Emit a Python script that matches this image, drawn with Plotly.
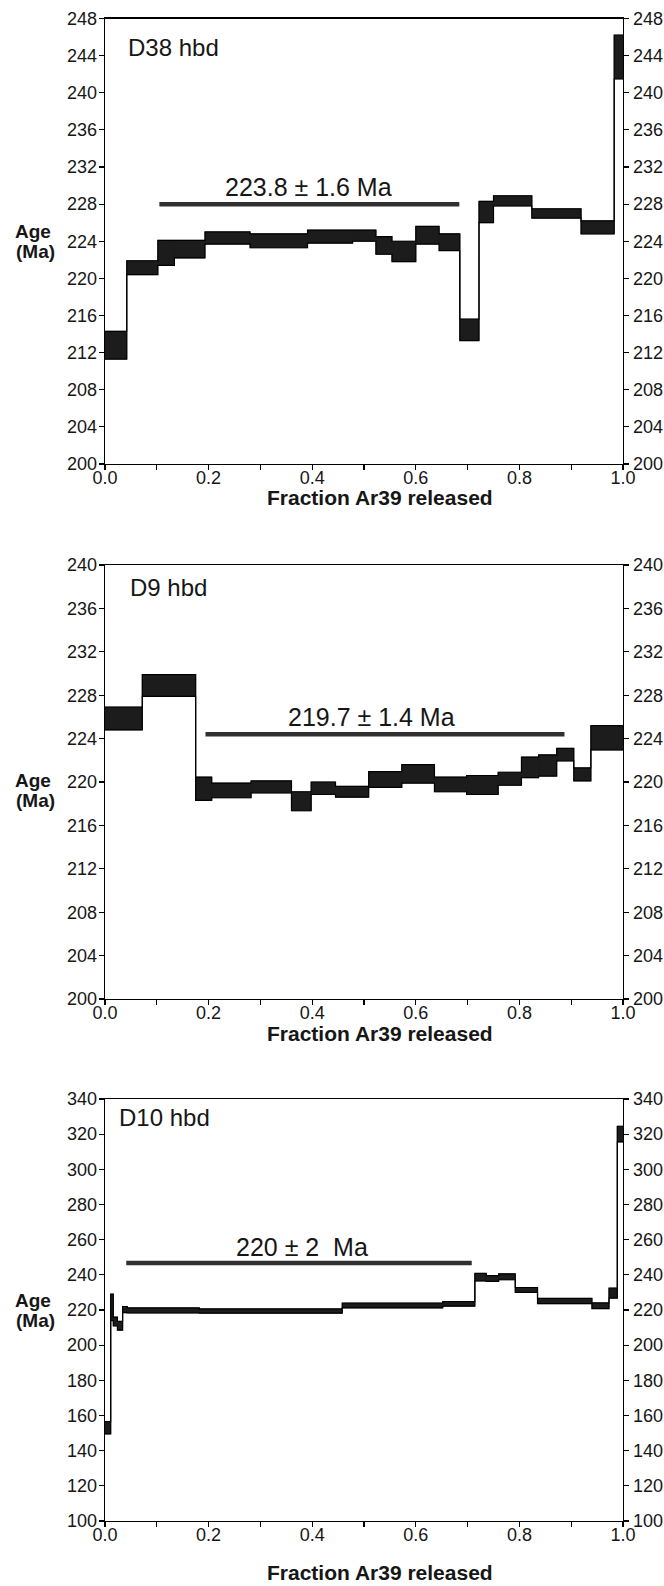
import plotly.graph_objects as go

# ---------------- data ----------------
# D38 hbd
d38_edges = [0.0, 0.042, 0.102, 0.134, 0.193, 0.280, 0.391, 0.478, 0.523, 0.554, 0.600, 0.645, 0.685, 0.722, 0.750, 0.824, 0.919, 0.983, 1.0]
d38_lo = [211.3, 220.4, 221.4, 222.2, 223.7, 223.3, 223.8, 224.0, 222.6, 221.8, 223.7, 223.0, 213.3, 226.0, 227.8, 226.5, 224.8, 241.5]
d38_hi = [214.3, 221.9, 224.1, 224.1, 225.0, 224.8, 225.2, 225.2, 224.5, 224.0, 225.6, 224.8, 215.6, 228.3, 228.9, 227.5, 226.2, 246.2]
d38_plateau = [0.105, 0.684, 228.0]
d38_plateau_text = "223.8 ± 1.6 Ma"

# D9 hbd
d9_edges = [0.0, 0.072, 0.175, 0.206, 0.282, 0.360, 0.398, 0.445, 0.509, 0.573, 0.636, 0.698, 0.759, 0.804, 0.837, 0.872, 0.905, 0.938, 1.0]
d9_lo = [224.8, 227.9, 218.3, 218.55, 219.0, 217.35, 218.85, 218.6, 219.5, 219.9, 219.1, 218.85, 219.7, 220.4, 220.55, 221.95, 220.1, 222.95]
d9_hi = [226.9, 229.9, 220.45, 219.9, 220.1, 219.1, 220.0, 219.6, 220.95, 221.6, 220.45, 220.6, 220.9, 222.3, 222.5, 223.1, 221.3, 225.2]
d9_plateau = [0.194, 0.887, 224.4]
d9_plateau_text = "219.7 ± 1.4 Ma"

# D10 hbd
d10_edges = [0.0, 0.011, 0.016, 0.024, 0.034, 0.043, 0.182, 0.458, 0.652, 0.714, 0.736, 0.760, 0.792, 0.835, 0.940, 0.973, 0.989, 1.0]
d10_lo = [149.5, 214.0, 211.0, 208.5, 218.5, 218.3, 218.2, 221.2, 222.2, 236.5, 236.3, 237.2, 230.0, 223.6, 220.8, 226.8, 315.6]
d10_hi = [156.5, 229.0, 216.0, 213.5, 222.0, 221.2, 220.6, 223.9, 224.8, 240.8, 239.5, 240.6, 232.8, 226.6, 224.0, 232.4, 324.5]
d10_plateau = [0.041, 0.708, 246.8]
d10_plateau_text = "220 ± 2\u00a0 Ma"

sample_names = ["D38 hbd", "D9 hbd", "D10 hbd"]
y_ranges = [[200, 248], [200, 240], [100, 340]]
y_dticks = [4, 4, 20]
x_tick_vals = [0.0, 0.2, 0.4, 0.6, 0.8, 1.0]
x_tick_labels = ["0.0", "0.2", "0.4", "0.6", "0.8", "1.0"]
x_minor_vals = [0.1, 0.3, 0.5, 0.7, 0.9]
x_title = "Fraction Ar39 released"
y_title_lines = ["Age", "(Ma)"]

# --------------- layout geometry (pixels) ---------------
W, H = 664, 1586
x_left, x_right = 105, 623
panel_px = [(18.5, 464), (565, 999), (1099, 1521)]   # top, bottom
title_px = [498, 1033, 1572]
ylab_px = [(231, 251), (780, 800), (1300, 1320)]
name_pos = [(0.041, 244.9), (0.045, 237.9), (0.023, 329.2)]
plat_text_pos = [(0.393, 229.8), (0.514, 226.0), (0.380, 256.0)]

FONT = "Liberation Sans, Arial, Helvetica, sans-serif"
INK = "#161616"

fig = go.Figure()

panels = [
    (d38_edges, d38_lo, d38_hi, d38_plateau, d38_plateau_text),
    (d9_edges, d9_lo, d9_hi, d9_plateau, d9_plateau_text),
    (d10_edges, d10_lo, d10_hi, d10_plateau, d10_plateau_text),
]

layout = dict(
    template="none",
    width=W, height=H, autosize=False,
    margin=dict(l=0, r=0, t=0, b=0, pad=0, autoexpand=False),
    paper_bgcolor="white", plot_bgcolor="white",
    showlegend=False,
    font=dict(family=FONT, color=INK, size=18),
)
annotations = []

for k, (edges, lo, hi, plat, ptxt) in enumerate(panels):
    xa = "x" if k == 0 else f"x{k+1}"
    yl = f"y{2*k+1}" if k > 0 else "y"
    yr = f"y{2*k+2}"
    xa_key = "xaxis" if k == 0 else f"xaxis{k+1}"
    yl_key = "yaxis" if k == 0 else f"yaxis{2*k+1}"
    yr_key = f"yaxis{2*k+2}"

    # filled rectangles of each step
    fx, fy = [], []
    for i in range(len(lo)):
        fx += [edges[i], edges[i+1], edges[i+1], edges[i], edges[i], None]
        fy += [lo[i], lo[i], hi[i], hi[i], lo[i], None]
    fig.add_trace(go.Scatter(x=fx, y=fy, xaxis=xa, yaxis=yl, mode="lines",
                             fill="toself", fillcolor="#1c1c1c",
                             line=dict(color="#1c1c1c", width=0.6),
                             hoverinfo="skip"))
    # lower envelope
    fig.add_trace(go.Scatter(x=edges, y=lo + [lo[-1]], xaxis=xa, yaxis=yl,
                             mode="lines", line=dict(color="black", width=1.2, shape="hv"),
                             hoverinfo="skip"))
    # upper envelope (drawn on the right axis so that axis renders)
    fig.add_trace(go.Scatter(x=edges, y=hi + [hi[-1]], xaxis=xa, yaxis=yr,
                             mode="lines", line=dict(color="black", width=1.2, shape="hv"),
                             hoverinfo="skip"))
    # plateau bar
    fig.add_trace(go.Scatter(x=[plat[0], plat[1]], y=[plat[2], plat[2]], xaxis=xa, yaxis=yl,
                             mode="lines", line=dict(color="#303030", width=4.5),
                             hoverinfo="skip"))

    top, bot = panel_px[k]
    dom = [1 - bot / H, 1 - top / H]
    r = y_ranges[k]
    tv = list(range(r[0], r[1] + 1, y_dticks[k]))

    layout[xa_key] = dict(
        domain=[x_left / W, x_right / W], anchor=yl, range=[0, 1],
        tickmode="array", tickvals=x_tick_vals, ticktext=x_tick_labels,
        ticks="outside", ticklen=5, tickwidth=1.2, tickcolor="black",
        ticklabelstandoff=-8,
        minor=dict(tickmode="array", tickvals=x_minor_vals,
                   ticks="outside", ticklen=5, tickwidth=1.2, tickcolor="black", showgrid=False),
        showline=True, linecolor="black", linewidth=1.4, mirror=True,
        showgrid=False, zeroline=False, fixedrange=True, automargin=False,
        tickfont=dict(size=18, family=FONT, color=INK),
    )
    common_y = dict(
        domain=dom, range=r, tickmode="array", tickvals=tv,
        ticktext=[str(v) for v in tv],
        ticks="outside", ticklen=5, tickwidth=1.2, tickcolor="black",
        showline=True, linecolor="black", linewidth=1.4,
        showgrid=False, zeroline=False, fixedrange=True, automargin=False,
        tickfont=dict(size=18, family=FONT, color=INK),
    )
    layout[yl_key] = dict(common_y, anchor=xa, side="left", ticklabelstandoff=-2)
    layout[yr_key] = dict(common_y, anchor=xa, side="right", overlaying=yl, ticklabelstandoff=0)

    # sample name
    annotations.append(dict(x=name_pos[k][0], y=name_pos[k][1], xref=xa, yref=yl,
                            text=sample_names[k], showarrow=False, xanchor="left", yanchor="middle",
                            font=dict(size=24, family=FONT, color=INK)))
    # plateau age text
    annotations.append(dict(x=plat_text_pos[k][0], y=plat_text_pos[k][1], xref=xa, yref=yl,
                            text=ptxt, showarrow=False, xanchor="center", yanchor="middle",
                            font=dict(size=25, family=FONT, color=INK)))
    # y label (two lines)
    for j, line in enumerate(y_title_lines):
        annotations.append(dict(x=(32.5 + 2.5 * j) / W, y=1 - ylab_px[k][j] / H,
                                xref="paper", yref="paper",
                                text="<b>" + line + "</b>", showarrow=False,
                                xanchor="center", yanchor="middle",
                                font=dict(size=19, family=FONT, color=INK)))
    # x title
    annotations.append(dict(x=380 / W, y=1 - title_px[k] / H, xref="paper", yref="paper",
                            text="<b>" + x_title + "</b>", showarrow=False,
                            xanchor="center", yanchor="middle",
                            font=dict(size=21, family=FONT, color=INK)))

layout["annotations"] = annotations
fig.update_layout(**layout)
fig.write_html("out.html",
               config={"displayModeBar": False, "staticPlot": True},
               post_script="document.body.style.margin='0px';document.body.style.overflow='hidden';")
